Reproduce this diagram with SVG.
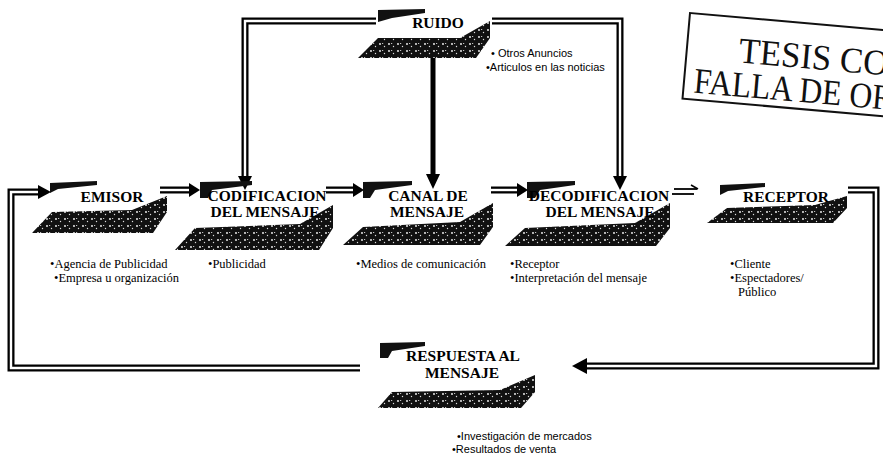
<svg xmlns="http://www.w3.org/2000/svg" width="883" height="458" viewBox="0 0 883 458">
<defs>
<pattern id="spk" width="9" height="7" patternUnits="userSpaceOnUse">
<rect width="9" height="7" fill="#111"/>
<circle cx="2" cy="2" r="0.9" fill="#fff"/>
<circle cx="6.5" cy="4.5" r="0.7" fill="#ddd"/>
<rect x="4" y="1" width="1.2" height="0.8" fill="#eee"/>
</pattern>
<style>
.t{font-family:"Liberation Serif","Times New Roman",serif;font-weight:bold;font-size:15.5px;fill:#000;text-anchor:middle}
.b{font-family:"Liberation Serif","Times New Roman",serif;font-size:12.5px;fill:#000}
.s{font-family:"Liberation Sans",Arial,sans-serif;font-size:11px;fill:#000}
.slab{fill:url(#spk)}
.bar{fill:#111}
.dbl{fill:none;stroke:#000;stroke-width:7}
.dbw{fill:none;stroke:#fff;stroke-width:2.4}
.stamp{font-family:"Liberation Serif","Times New Roman",serif;font-size:36px;fill:#111}
</style>
</defs>
<rect width="883" height="458" fill="#fff"/>

<g id="connectors">
<path class="dbl" d="M376,21 H245 V176"/>
<path class="dbw" d="M376,21 H245 V176"/>
<polygon points="238,176 252,176 245,190" fill="#000"/>
<line x1="433" y1="56" x2="433" y2="176" stroke="#000" stroke-width="5"/>
<polygon points="426,174 440,174 433,189" fill="#000"/>
<path class="dbl" d="M492,21 H620 V176"/>
<path class="dbw" d="M492,21 H620 V176"/>
<polygon points="613,176 627,176 620,190" fill="#000"/>
<path class="dbl" d="M160,190 H190"/>
<path class="dbw" d="M160,190 H190"/>
<polygon points="189,183 189,197 200,190" fill="#000"/>
<path class="dbl" d="M326,190 H354"/>
<path class="dbw" d="M326,190 H354"/>
<polygon points="353,183 353,197 364,190" fill="#000"/>
<path class="dbl" d="M491,190 H518"/>
<path class="dbw" d="M491,190 H518"/>
<polygon points="517,183 517,197 528,190" fill="#000"/>
<line x1="674" y1="189" x2="697" y2="189" stroke="#000" stroke-width="1.8"/>
<line x1="672" y1="194" x2="694" y2="194" stroke="#000" stroke-width="1.8"/>
<path d="M691,185 L698,189" stroke="#000" stroke-width="1.5"/>
<path class="dbl" d="M848,190 H876 V366 H585"/>
<path class="dbw" d="M848,190 H876 V366 H585"/>
<polygon points="587,358 587,374 572,366" fill="#000"/>
<path class="dbl" d="M360,368 H11 V192 H40"/>
<path class="dbw" d="M360,368 H11 V192 H40"/>
<polygon points="38,185 38,199 51,192" fill="#000"/>
</g>

<g id="ruido">
<polygon class="bar" points="378,10 425,9 425,13 392,18 378,22"/>
<polygon class="slab" points="358,58 378,38 460,38 490,21 490,38 476,58"/>
<text class="t" x="438" y="28">RUIDO</text>
<text class="s" x="491" y="57">• Otros Anuncios</text>
<text class="s" x="486" y="71">•Articulos en las noticias</text>
</g>

<g id="emisor">
<polygon class="bar" points="50,183 97,181 97,185 58,189 50,193"/>
<polygon class="slab" points="32,233 52,212 132,210 167,196 167,212 153,233"/>
<text class="t" x="112" y="202">EMISOR</text>
<text class="b" x="50" y="268">•Agencia de Publicidad</text>
<text class="b" x="54" y="282">•Empresa u organización</text>
</g>

<g id="codificacion">
<polygon class="bar" points="200,182 252,181 252,185 212,190 208,198 200,198"/>
<polygon class="slab" points="175,250 195,228 300,224 333,205 333,228 319,250"/>
<text class="t" x="267" y="201">CODIFICACION</text>
<text class="t" x="265" y="217">DEL MENSAJE</text>
<text class="b" x="208" y="268">•Publicidad</text>
</g>

<g id="canal">
<polygon class="bar" points="363,182 412,181 412,185 375,190 370,198 363,198"/>
<polygon class="slab" points="343,245 363,227 460,222 493,203 493,227 480,245"/>
<text class="t" x="428" y="201">CANAL DE</text>
<text class="t" x="427" y="217">MENSAJE</text>
<text class="b" x="356" y="268">•Medios de comunicación</text>
</g>

<g id="decodificacion">
<polygon class="bar" points="527,182 575,181 575,185 540,190 535,198 527,198"/>
<polygon class="slab" points="505,246 525,228 635,223 670,203 670,228 656,246"/>
<text class="t" x="599" y="201">DECODIFICACION</text>
<text class="t" x="600" y="217">DEL MENSAJE</text>
<text class="b" x="510" y="268">•Receptor</text>
<text class="b" x="510" y="282">•Interpretación del mensaje</text>
</g>

<g id="receptor">
<polygon class="bar" points="720,185 765,183 765,187 728,191 720,195"/>
<polygon class="slab" points="707,223 727,208 815,205 847,196 847,208 833,223"/>
<text class="t" x="786" y="202">RECEPTOR</text>
<text class="b" x="730" y="268">•Cliente</text>
<text class="b" x="730" y="282">•Espectadores/</text>
<text class="b" x="738" y="296">Público</text>
</g>

<g id="respuesta">
<polygon class="bar" points="380,343 425,342 425,346 392,351 388,358 380,358"/>
<polygon class="slab" points="378,408 392,392 500,390 535,375 535,392 521,408"/>
<text class="t" x="463" y="361">RESPUESTA AL</text>
<text class="t" x="462" y="378">MENSAJE</text>
<text class="s" x="457" y="440">•Investigación de mercados</text>
<text class="s" x="452" y="453">•Resultados de venta</text>
</g>

<g id="stamp" transform="rotate(5 690 13)">
<rect x="690" y="13" width="240" height="86" fill="none" stroke="#111" stroke-width="2"/>
<text class="stamp" x="742" y="58" textLength="150" lengthAdjust="spacingAndGlyphs">TESIS CO</text>
<text class="stamp" x="700" y="92" textLength="200" lengthAdjust="spacingAndGlyphs">FALLA DE OR</text>
</g>
</svg>
